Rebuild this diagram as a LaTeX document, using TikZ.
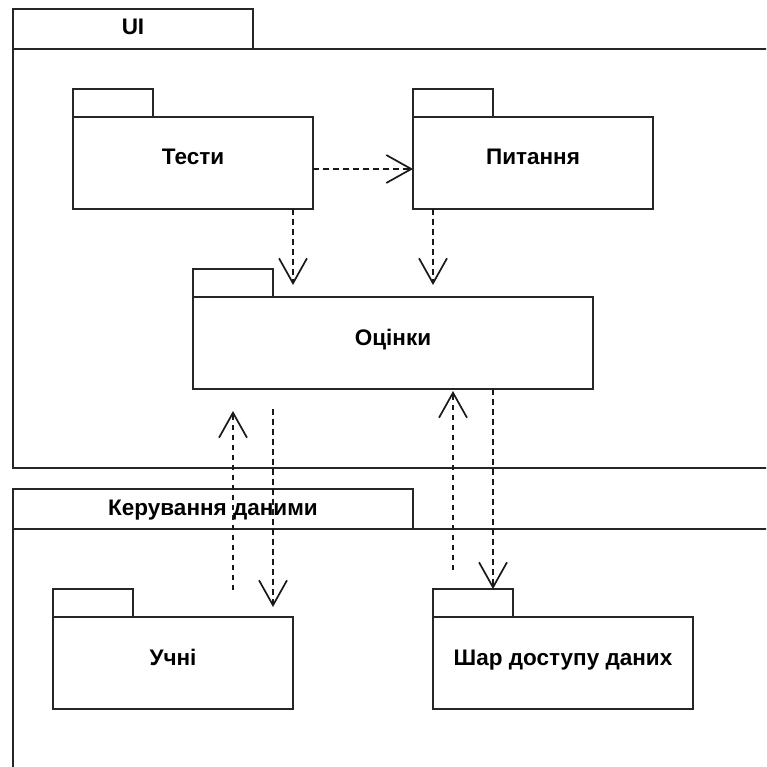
\documentclass[tikz,border=0pt]{standalone}
\usepackage{fontspec}
\setmainfont{Liberation Sans}
\usetikzlibrary{arrows.meta}
\begin{document}
\begin{tikzpicture}[x=1pt,y=-1pt,
  outline/.style={draw=black!85, line width=1.9pt, outer sep=0pt},
  pkgfont/.style={font=\bfseries\fontsize{22.5}{27}\selectfont},
  pkgbody/.style={outline, rectangle, inner sep=0pt, pkgfont, text height=16pt, text depth=12pt},
  pkgtab/.style={outline, rectangle, inner sep=0pt, pkgfont, text height=16pt, text depth=4pt},
  dep/.style={draw=black!90, line width=1.6pt, dash pattern=on 5.5pt off 4.5pt,
    -{Straight Barb[length=25pt,width=28pt,line width=1.7pt]}}]
  \clip (0,0) rectangle (766,767);
  \fill[white] (0,0) rectangle (766,767);

  % outer package: UI
  \node[pkgtab, minimum width=240pt, minimum height=40pt] (uiTab) at (133,29) {UI};
  \node[outline, rectangle, inner sep=0pt, anchor=north west,
        minimum width=800pt, minimum height=419pt] (uiBody) at (13,49) {};

  % outer package: data management
  \node[pkgtab, minimum width=400pt, minimum height=40pt] (dataTab) at (213,509) {Керування даними};
  \node[outline, rectangle, inner sep=0pt, anchor=north west,
        minimum width=800pt, minimum height=300pt] (dataBody) at (13,529) {};

  % inner packages
  \node[pkgtab, minimum width=80pt, minimum height=28pt] (testsTab) at (113,103) {};
  \node[pkgbody, minimum width=240pt, minimum height=92pt] (testsB) at (193,163) {Тести};

  \node[pkgtab, minimum width=80pt, minimum height=28pt] (questTab) at (453,103) {};
  \node[pkgbody, minimum width=240pt, minimum height=92pt] (questB) at (533,163) {Питання};

  \node[pkgtab, minimum width=80pt, minimum height=28pt] (gradesTab) at (233,283) {};
  \node[pkgbody, minimum width=400pt, minimum height=92pt] (gradesB) at (393,343) {Оцінки};

  \node[pkgtab, minimum width=80pt, minimum height=28pt] (pupilsTab) at (93,603) {};
  \node[pkgbody, minimum width=240pt, minimum height=92pt] (pupilsB) at (173,663) {Учні};

  \node[pkgtab, minimum width=80pt, minimum height=28pt] (layerTab) at (473,603) {};
  \node[pkgbody, minimum width=260pt, minimum height=92pt] (layerB) at (563,663) {Шар доступу даних};

  % dependencies
  \draw[dep] ([yshift=-6pt]testsB.east) -- ([yshift=-6pt]questB.west);
  \draw[dep] ([xshift=-20pt]testsB.south east) -- ([xshift=100pt,yshift=12pt]gradesB.north west);
  \draw[dep] ([xshift=20pt]questB.south west) -- ([xshift=240pt,yshift=12pt]gradesB.north west);
  \draw[dep] ([xshift=80pt,yshift=-20pt]gradesB.south west) -- ([xshift=220pt,yshift=10pt]pupilsB.north west);
  \draw[dep] ([xshift=180pt,yshift=27pt]pupilsB.north west) -- ([xshift=40pt,yshift=-22pt]gradesB.south west);
  \draw[dep] ([xshift=20pt,yshift=19pt]layerTab.north west) -- ([xshift=260pt,yshift=-2pt]gradesB.south west);
  \draw[dep] ([xshift=300pt]gradesB.south west) -- ([xshift=60pt]layerTab.north west);
\end{tikzpicture}
\end{document}
